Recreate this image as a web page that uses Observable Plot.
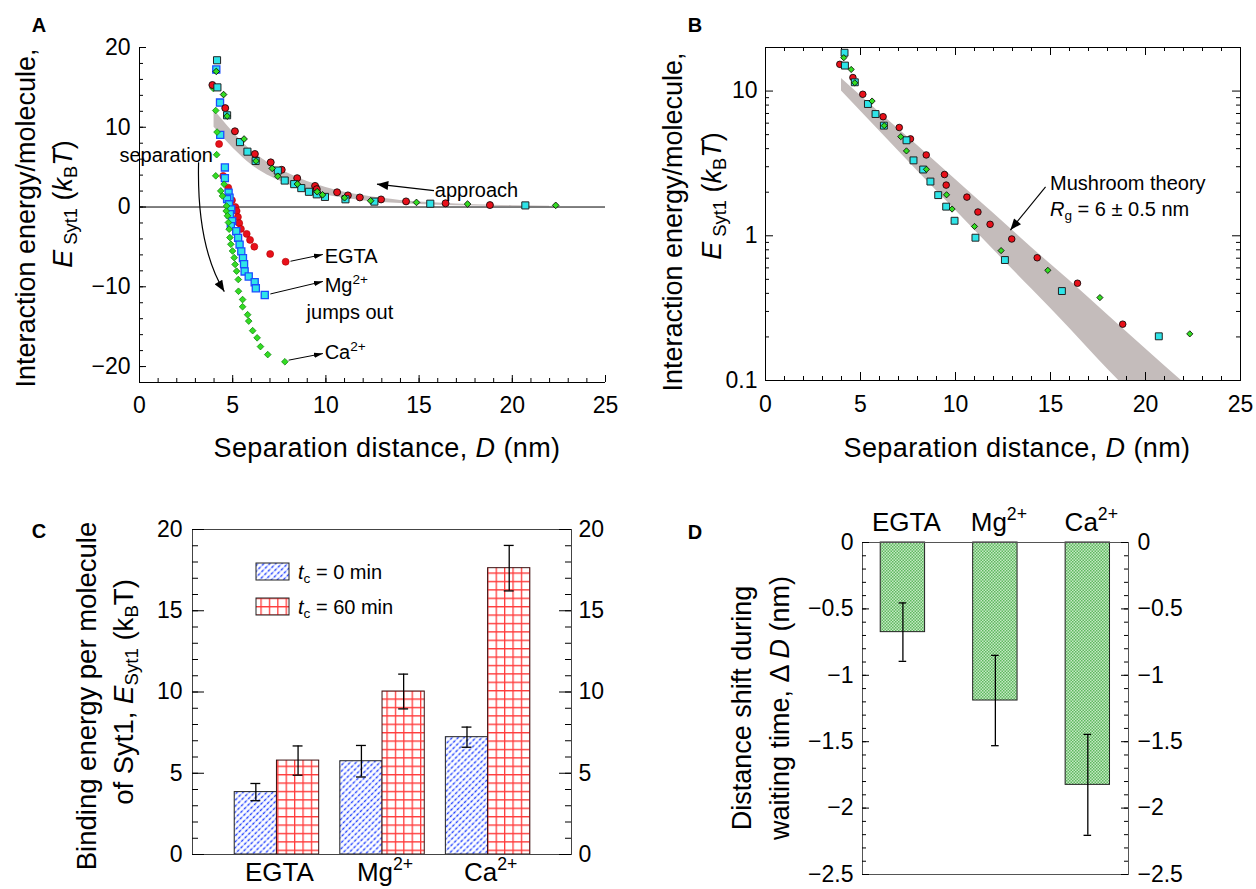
<!DOCTYPE html>
<html><head><meta charset="utf-8">
<script src="https://cdn.jsdelivr.net/npm/d3@7"></script>
<script src="https://cdn.jsdelivr.net/npm/@observablehq/plot@0.6"></script>
<style>
body{margin:0;background:#fff;}
#root{position:relative;width:1256px;height:889px;overflow:hidden;font-family:"Liberation Sans",Arial,Helvetica,sans-serif;background:#fff;}
.panel{position:absolute;}
.lbl{position:absolute;white-space:nowrap;color:#000;line-height:1;}
.lbl sub,.lbl sup{font-size:68%;line-height:0;}
.lbl sub{vertical-align:-0.28em;}
.lbl sup{vertical-align:0.6em;}
</style></head><body>
<svg width="0" height="0" style="position:absolute;left:0;top:0">
<defs>
<marker id="ah" viewBox="0 0 10 6" refX="10" refY="3" markerWidth="9" markerHeight="5.4" markerUnits="userSpaceOnUse" orient="auto"><path d="M0,0L10,3L0,6Z" fill="#000"/></marker>
<marker id="ahBig" viewBox="0 0 10 8" refX="10" refY="4" markerWidth="13" markerHeight="9" markerUnits="userSpaceOnUse" orient="auto"><path d="M0,0L10,4L0,8Z" fill="#000"/></marker>
<pattern id="hatchBlue" patternUnits="userSpaceOnUse" width="5" height="4.2" patternTransform="rotate(-45)">
<rect width="5" height="4.2" fill="#ffffff"/>
<line x1="0" y1="2.1" x2="5" y2="2.1" stroke="#b4c0ff" stroke-width="1.3"/>
<line x1="0" y1="2.1" x2="5" y2="2.1" stroke="#2442ff" stroke-width="1.3" stroke-dasharray="2.5 2.5"/>
</pattern>
<pattern id="gridRed" patternUnits="userSpaceOnUse" width="8.4" height="8.4">
<rect width="8.4" height="8.4" fill="#fff"/>
<path d="M0,0.65H8.4M0.65,0V8.4" stroke="#ff3b3b" stroke-width="1.3" fill="none"/>
</pattern>
<pattern id="greenCheck" patternUnits="userSpaceOnUse" width="3" height="3">
<rect width="3" height="3" fill="#c4e9c4"/>
<rect width="1.5" height="1.5" fill="#5fb85f"/>
<rect x="1.5" y="1.5" width="1.5" height="1.5" fill="#5fb85f"/>
</pattern>
</defs></svg>
<div id="root"></div>
<script>
// ---------------- DATA ----------------
// Panels A & B: approach curves [D (nm), E (kBT)]
const approachEGTA = [[3.91,15.3],[4.60,12.4],[5.12,9.5],[6.19,6.65],[7.04,5.6],[7.63,4.67],[8.46,3.62],[9.42,2.65],[9.51,2.24],[10.6,1.85],[11.18,1.46],[11.82,1.2],[12.96,0.95],[14.3,0.705],[16.42,0.47],[18.8,0.245]];
const approachMg = [[4.16,18.4],[4.18,15.0],[4.70,11.5],[5.39,8.14],[5.79,6.94],[6.23,5.77],[7.42,4.57],[7.79,3.32],[8.30,2.87],[8.68,2.37],[9.09,1.91],[9.51,1.59],[9.95,1.27],[11.05,0.97],[12.6,0.68],[15.6,0.415],[20.7,0.202]];
const approachCa = [[4.12,17.0],[4.51,14.1],[4.70,11.4],[5.61,8.53],[6.25,5.77],[7.12,4.84],[7.42,3.86],[8.47,2.88],[9.53,1.92],[9.82,1.53],[11.0,1.16],[12.4,0.79],[14.86,0.577],[17.6,0.374],[22.33,0.21]];
// Panel A: separation curves
const separationEGTA = [[4.27,7.9],[4.49,3.9],[4.76,2.43],[4.96,0.84],[5.14,0.0],[5.21,-0.5],[5.28,-1.26],[5.35,-2.02],[5.44,-2.74],[5.75,-3.37],[5.93,-4.12],[6.16,-4.97],[7.01,-5.89],[7.84,-6.86]];
const separationMg = [[4.12,17.25],[4.32,13.1],[4.33,9.05],[4.58,4.96],[4.58,3.62],[4.78,1.81],[4.83,1.18],[4.70,1.0],[4.80,0.34],[4.92,-0.29],[4.85,-0.9],[4.97,-1.77],[4.9,-2.4],[5.19,-3.03],[5.29,-3.87],[5.37,-4.71],[5.46,-5.56],[5.55,-6.4],[5.61,-7.16],[5.64,-8.08],[5.86,-8.71],[6.18,-9.43],[6.24,-10.19],[6.72,-11.03]];
const separationCa = [[3.96,14.86],[4.09,12.1],[4.16,9.4],[4.14,6.56],[4.09,3.91],[4.54,2.86],[4.36,2.02],[4.45,1.39],[4.67,0.13],[4.65,-0.5],[4.72,-1.1],[4.77,-1.94],[4.81,-2.78],[4.85,-3.83],[4.9,-4.67],[4.99,-5.51],[5.08,-6.35],[5.13,-7.2],[5.21,-8.04],[5.3,-9.09],[5.31,-10.56],[5.53,-11.6],[5.53,-12.5],[5.8,-13.5],[5.86,-14.3],[6.07,-15.5],[6.31,-16.4],[6.49,-17.5],[6.88,-18.5],[7.8,-19.4]];
// Mushroom theory band (Rg = 6 ± 0.5 nm)
const bandD    = [4, 6, 8, 10, 12, 14, 16, 18, 20, 22];
const bandHigh = [12.2, 7.1, 4.2, 2.45, 1.43, 0.83, 0.49, 0.285, 0.166, 0.097];
const bandLow  = [10, 5.3, 2.8, 1.5, 0.8, 0.43, 0.23, 0.12, 0.065, 0.034];
// Panel C
const conditions = ["EGTA", "Mg<sup>2+</sup>", "Ca<sup>2+</sup>"];
const bind0 = [3.84, 5.74, 7.22];
const bind0Err = [0.53, 0.97, 0.62];
const bind60 = [5.78, 10.03, 17.62];
const bind60Err = [0.9, 1.07, 1.4];
// Panel D
const shift = [-0.675, -1.19, -1.825];
const shiftErr = [0.22, 0.34, 0.38];
// Tick labels
const ticksA_x = [0, 5, 10, 15, 20, 25];
const ticksA_y = [-20, -10, 0, 10, 20];
const ticksB_y = [0.1, 1, 10];
const minorB_y = [0.2,0.3,0.4,0.5,0.6,0.7,0.8,0.9,2,3,4,5,6,7,8,9];
const ticksC_y = [0, 5, 10, 15, 20];
const ticksD_y = [0, -0.5, -1, -1.5, -2, -2.5];
// Annotations
const annotationsA = [
  {html:"separation", x:1.46, y:6.44, anchor:"middle"},
  {html:"approach", x:15.87, y:2.05},
  {html:"EGTA", x:9.96, y:-6.17},
  {html:"Mg<sup>2+</sup>", x:9.96, y:-9.8},
  {html:"jumps out", x:8.99, y:-13.2},
  {html:"Ca<sup>2+</sup>", x:9.96, y:-18.2}
];
const labelArrowsA = [{x1:8.1,y1:-6.8,x2:9.84,y2:-5.95},{x1:7.02,y1:-10.9,x2:9.84,y2:-9.33},{x1:8.0,y1:-19.2,x2:9.84,y2:-18.37}];
const approachArrow = [{x1:15.8,y1:2.05,x2:12.74,y2:2.87}];
const separationArrow = [{x1:3.17,y1:5.6,x2:4.55,y2:-10.6}];
const annotationsB = [
  {html:"Mushroom theory", x:15.0, y:2.30},
  {html:"<i>R</i><sub>g</sub> = 6 ± 0.5 nm", x:15.0, y:1.53}
];
const mushroomArrow = [{x1:14.74,y1:2.18,x2:12.89,y2:1.095}];

// ---------------- HELPERS ----------------
const FONT = '"Liberation Sans", Arial, Helvetica, sans-serif';
const root = document.getElementById("root");
const pts = a => a.map(([D, E]) => ({D, E}));
const band = bandD.map((D, i) => ({D, lo: bandLow[i], hi: bandHigh[i]}));
const fmtMinus = d => (d < 0 ? "\u2212" : "") + String(Math.abs(d));

function label(html, x, y, o = {}) {
  const {size = 20, anchor = "start", rotate = false, weight = "normal", ls = 0} = o;
  const d = document.createElement("div");
  d.className = "lbl";
  d.innerHTML = html;
  d.style.left = x + "px"; d.style.top = y + "px";
  d.style.fontSize = size + "px"; d.style.fontWeight = weight;
  if (ls) d.style.letterSpacing = ls + "px";
  const tx = anchor === "middle" ? "-50%" : anchor === "end" ? "-100%" : "0";
  d.style.transform = `translate(${tx},-50%)` + (rotate ? " rotate(-90deg)" : "");
  root.appendChild(d);
}
function place(svg, left, top) {
  const d = document.createElement("div");
  d.className = "panel";
  d.style.left = left + "px"; d.style.top = top + "px";
  d.style.width = svg.getAttribute("width") + "px";
  d.appendChild(svg);
  root.appendChild(d);
}
function ticks({fw, fh, xv, yv, len, sides}) {
  const m = [];
  if (yv) {
    if (sides.includes("left")) m.push(Plot.tickY(yv, {y: d => d, insetRight: fw - len, stroke: "#000"}));
    if (sides.includes("right")) m.push(Plot.tickY(yv, {y: d => d, insetLeft: fw - len, stroke: "#000"}));
  }
  if (xv) {
    if (sides.includes("bottom")) m.push(Plot.tickX(xv, {x: d => d, insetTop: fh - len, stroke: "#000"}));
    if (sides.includes("top")) m.push(Plot.tickX(xv, {x: d => d, insetBottom: fh - len, stroke: "#000"}));
  }
  return m;
}
function quadCurve(context) {
  let p = [];
  return {
    areaStart() {}, areaEnd() {},
    lineStart() { p = []; },
    point(x, y) { p.push([x, y]); },
    lineEnd() {
      if (p.length < 2) return;
      const [a, b] = [p[0], p[p.length - 1]];
      context.moveTo(a[0], a[1]);
      context.quadraticCurveTo(a[0] - 2, a[1] + 0.65 * (b[1] - a[1]), b[0], b[1]);
    }
  };
}
function setMarkers(svg, list) {
  const gs = svg.querySelectorAll('g[aria-label="link"]');
  gs.forEach((g, k) => g.querySelectorAll("path").forEach(p => p.setAttribute("marker-end", `url(#${list[k]})`)));
}
const baseStyle = {fontFamily: FONT, fontSize: "23px", color: "#000", background: "transparent", overflow: "visible"};

// ---------------- PANEL A ----------------
const A = {W: 628, H: 480, ml: 139, mr: 23, mt: 47, mb: 98};
const fwA = A.W - A.ml - A.mr, fhA = A.H - A.mt - A.mb;
const plotA = Plot.plot({
  width: A.W, height: A.H, marginLeft: A.ml, marginRight: A.mr, marginTop: A.mt, marginBottom: A.mb,
  style: baseStyle,
  x: {domain: [0, 25]}, y: {domain: [-22, 20]},
  marks: [
    Plot.areaY(band, {x: "D", y1: "lo", y2: "hi", fill: "#c4bcbb", curve: "monotone-x", clip: true}),
    Plot.ruleY([0], {stroke: "#000", strokeWidth: 1}),
    Plot.ruleX([0], {stroke: "#000"}),
    Plot.ruleY([-22], {stroke: "#000"}),
    ...ticks({fw: fwA, fh: fhA, yv: d3.range(-20, 21, 2), xv: d3.range(0, 26, 1), len: 4, sides: ["left", "bottom"]}),
    ...ticks({fw: fwA, fh: fhA, yv: ticksA_y, xv: ticksA_x, len: 7, sides: ["left", "bottom"]}),
    Plot.axisX({ticks: ticksA_x, tickSize: 0, tickPadding: 14, label: null}),
    Plot.axisY({ticks: ticksA_y, tickSize: 0, tickPadding: 9, label: null}),
    Plot.link(labelArrowsA, {x1: "x1", y1: "y1", x2: "x2", y2: "y2", stroke: "#000", strokeWidth: 1}),
    Plot.link(approachArrow, {x1: "x1", y1: "y1", x2: "x2", y2: "y2", stroke: "#000", strokeWidth: 1.2}),
    Plot.link(separationArrow, {x1: "x1", y1: "y1", x2: "x2", y2: "y2", stroke: "#000", strokeWidth: 1.2, curve: quadCurve}),
    Plot.dot(pts(separationEGTA), {x: "D", y: "E", symbol: "circle", r: 3.5, fill: "#e8101a", stroke: "#b00000", strokeWidth: 0.6}),
    Plot.dot(pts(separationMg), {x: "D", y: "E", symbol: "square", r: 4, fill: "#2ee4e8", stroke: "#1a4dff", strokeWidth: 1.3}),
    Plot.dot(pts(separationCa), {x: "D", y: "E", symbol: "diamond2", r: 3, fill: "#33dd22", stroke: "#128812", strokeWidth: 0.8}),
    Plot.dot(pts(approachEGTA), {x: "D", y: "E", symbol: "circle", r: 3.5, fill: "#e8101a", stroke: "#000", strokeWidth: 0.8}),
    Plot.dot(pts(approachMg), {x: "D", y: "E", symbol: "square", r: 4, fill: "#2ee4e8", stroke: "#222", strokeWidth: 1}),
    Plot.dot(pts(approachCa), {x: "D", y: "E", symbol: "diamond2", r: 3, fill: "#33dd22", stroke: "#000", strokeWidth: 0.8})
  ]
});
setMarkers(plotA, ["ah", "ahBig", "ahBig"]);
place(plotA, 0, 0);
{
  const sx = plotA.scale("x"), sy = plotA.scale("y");
  annotationsA.forEach(a => label(a.html, sx.apply(a.x), sy.apply(a.y), {size: 20, anchor: a.anchor || "start"}));
}

// ---------------- PANEL B ----------------
const B = {W: 628, H: 480, ml: 137, mr: 16, mt: 47, mb: 100};
const fwB = B.W - B.ml - B.mr, fhB = B.H - B.mt - B.mb;
const plotB = Plot.plot({
  width: B.W, height: B.H, marginLeft: B.ml, marginRight: B.mr, marginTop: B.mt, marginBottom: B.mb,
  style: baseStyle,
  x: {domain: [0, 25]}, y: {type: "log", domain: [0.1, 20]},
  marks: [
    Plot.areaY(band, {x: "D", y1: "lo", y2: "hi", fill: "#c4bcbb", curve: "monotone-x", clip: true}),
    Plot.frame({stroke: "#000"}),
    ...ticks({fw: fwB, fh: fhB, yv: minorB_y, xv: d3.range(0, 26, 1), len: 4, sides: ["left", "right", "bottom", "top"]}),
    ...ticks({fw: fwB, fh: fhB, yv: ticksB_y, xv: ticksA_x, len: 8, sides: ["left", "right", "bottom", "top"]}),
    Plot.axisX({ticks: ticksA_x, tickSize: 0, tickPadding: 15, label: null}),
    Plot.axisY({ticks: ticksB_y, tickSize: 0, tickPadding: 8, tickFormat: d => String(d), label: null}),
    Plot.link(mushroomArrow, {x1: "x1", y1: "y1", x2: "x2", y2: "y2", stroke: "#000", strokeWidth: 1.1}),
    Plot.dot(pts(approachEGTA), {x: "D", y: "E", symbol: "circle", r: 3.3, fill: "#e8101a", stroke: "#000", strokeWidth: 0.8}),
    Plot.dot(pts(approachMg), {x: "D", y: "E", symbol: "square", r: 3.9, fill: "#2ee4e8", stroke: "#222", strokeWidth: 1}),
    Plot.dot(pts(approachCa), {x: "D", y: "E", symbol: "diamond2", r: 2.8, fill: "#33dd22", stroke: "#000", strokeWidth: 0.8})
  ]
});
setMarkers(plotB, ["ahBig"]);
place(plotB, 628, 0);
{
  const sx = plotB.scale("x"), sy = plotB.scale("y");
  annotationsB.forEach(a => label(a.html, 628 + sx.apply(a.x), sy.apply(a.y), {size: 20}));
}

// ---------------- PANEL C ----------------
const C = {W: 628, H: 409, ml: 192, mr: 57, mt: 49, mb: 35};
const fwC = C.W - C.ml - C.mr, fhC = C.H - C.mt - C.mb;
const rowsC = conditions.map((c, k) => ({i: k + 1, t0: bind0[k], e0: bind0Err[k], t60: bind60[k], e60: bind60Err[k]}));
const capC = 0.047;
const capsC = rowsC.flatMap(d => [
  {x: d.i - 0.2, y: d.t0 - d.e0}, {x: d.i - 0.2, y: d.t0 + d.e0},
  {x: d.i + 0.2, y: d.t60 - d.e60}, {x: d.i + 0.2, y: d.t60 + d.e60}]);
const plotC = Plot.plot({
  width: C.W, height: C.H, marginLeft: C.ml, marginRight: C.mr, marginTop: C.mt, marginBottom: C.mb,
  style: baseStyle,
  x: {domain: [0.2, 3.79], axis: null}, y: {domain: [0, 20]},
  marks: [
    Plot.rect(rowsC, {x1: d => d.i - 0.4, x2: d => d.i, y1: 0, y2: "t0", fill: "url(#hatchBlue)", stroke: "#222", strokeWidth: 1}),
    Plot.rect(rowsC, {x1: d => d.i, x2: d => d.i + 0.4, y1: 0, y2: "t60", fill: "url(#gridRed)", stroke: "#3a1010", strokeWidth: 1}),
    Plot.ruleX(rowsC, {x: d => d.i - 0.2, y1: d => d.t0 - d.e0, y2: d => d.t0 + d.e0, stroke: "#000", strokeWidth: 1.3}),
    Plot.ruleX(rowsC, {x: d => d.i + 0.2, y1: d => d.t60 - d.e60, y2: d => d.t60 + d.e60, stroke: "#000", strokeWidth: 1.3}),
    Plot.ruleY(capsC, {y: "y", x1: d => d.x - capC, x2: d => d.x + capC, stroke: "#000", strokeWidth: 1.3}),
    Plot.frame({stroke: "#444"}),
    ...ticks({fw: fwC, fh: fhC, yv: d3.range(0, 21, 1), len: 6, sides: ["left", "right"]}),
    ...ticks({fw: fwC, fh: fhC, yv: ticksC_y, len: 12, sides: ["left", "right"]}),
    Plot.axisY({anchor: "left", ticks: ticksC_y, tickSize: 0, tickPadding: 10, label: null}),
    Plot.axisY({anchor: "right", ticks: ticksC_y, tickSize: 0, tickPadding: 7, label: null})
  ]
});
{
  const g = d3.select(plotC).append("g");
  g.append("rect").attr("x", 256).attr("y", 83).attr("width", 33).attr("height", 17).attr("fill", "url(#hatchBlue)").attr("stroke", "#222");
  g.append("rect").attr("x", 256).attr("y", 118).attr("width", 33).attr("height", 17).attr("fill", "url(#gridRed)").attr("stroke", "#222");
}
place(plotC, 0, 480);
label("<i>t</i><sub>c</sub> = 0 min", 298, 571.5, {size: 20});
label("<i>t</i><sub>c</sub> = 60 min", 298, 606.5, {size: 20});
{
  const sx = plotC.scale("x");
  conditions.forEach((c, k) => label(c, sx.apply(k + 1) + 3, 872, {size: 26, anchor: "middle"}));
}

// ---------------- PANEL D ----------------
const Dp = {W: 628, H: 409, ml: 234, mr: 128, mt: 62, mb: 15};
const fwD = Dp.W - Dp.ml - Dp.mr, fhD = Dp.H - Dp.mt - Dp.mb;
const rowsD = conditions.map((c, k) => ({i: k + 1, v: shift[k], e: shiftErr[k]}));
const capD = 0.041;
const capsD = rowsD.flatMap(d => [{x: d.i, y: d.v - d.e}, {x: d.i, y: d.v + d.e}]);
const plotD = Plot.plot({
  width: Dp.W, height: Dp.H, marginLeft: Dp.ml, marginRight: Dp.mr, marginTop: Dp.mt, marginBottom: Dp.mb,
  style: baseStyle,
  x: {domain: [0.563, 3.44], axis: null}, y: {domain: [-2.5, 0]},
  marks: [
    Plot.rect(rowsD, {x1: d => d.i - 0.24, x2: d => d.i + 0.24, y1: 0, y2: "v", fill: "url(#greenCheck)", stroke: "#222", strokeWidth: 1}),
    Plot.ruleX(rowsD, {x: "i", y1: d => d.v - d.e, y2: d => d.v + d.e, stroke: "#000", strokeWidth: 1.3}),
    Plot.ruleY(capsD, {y: "y", x1: d => d.x - capD, x2: d => d.x + capD, stroke: "#000", strokeWidth: 1.3}),
    Plot.frame({stroke: "#555"}),
    ...ticks({fw: fwD, fh: fhD, yv: d3.range(0, 26, 1).map(k => -k / 10), len: 4, sides: ["left", "right"]}),
    ...ticks({fw: fwD, fh: fhD, yv: ticksD_y, len: 7, sides: ["left", "right"]}),
    Plot.axisY({anchor: "left", ticks: ticksD_y, tickSize: 0, tickPadding: 9, tickFormat: fmtMinus, label: null}),
    Plot.axisY({anchor: "right", ticks: ticksD_y, tickSize: 0, tickPadding: 9, tickFormat: fmtMinus, label: null})
  ]
});
place(plotD, 628, 480);
{
  const sx = plotD.scale("x");
  conditions.forEach((c, k) => label(c, 628 + sx.apply(k + 1) + 4, 522, {size: 26, anchor: "middle"}));
}

// ---------------- AXIS TITLES & PANEL LETTERS ----------------
label("Separation distance, <i>D</i> (nm)", 387, 448, {size: 27, anchor: "middle", ls: 0.4});
label("Separation distance, <i>D</i> (nm)", 1017, 448, {size: 27, anchor: "middle", ls: 0.4});
label("Interaction energy/molecule,", 26, 218, {size: 27, anchor: "middle", rotate: true});
label("<i>E</i><sub> Syt1</sub> (<i>k</i><sub>B</sub><i>T</i>)", 63, 204, {size: 27, anchor: "middle", rotate: true});
label("Interaction energy/molecule,", 673, 222, {size: 27, anchor: "middle", rotate: true});
label("<i>E</i><sub> Syt1</sub> (<i>k</i><sub>B</sub><i>T</i>)", 712, 196, {size: 27, anchor: "middle", rotate: true});
label("Binding energy per molecule", 87, 696, {size: 27.5, anchor: "middle", rotate: true});
label("of Syt1, <i>E</i><sub>Syt1</sub> (k<sub>B</sub>T)", 124, 692, {size: 27.5, anchor: "middle", rotate: true});
label("Distance shift during", 742, 708, {size: 27, anchor: "middle", rotate: true});
label("waiting time, Δ <i>D</i> (nm)", 780, 708, {size: 27, anchor: "middle", rotate: true});
label("A", 39, 25, {size: 20, anchor: "middle", weight: "bold"});
label("B", 695, 25, {size: 20, anchor: "middle", weight: "bold"});
label("C", 39, 531, {size: 20, anchor: "middle", weight: "bold"});
label("D", 695, 532, {size: 20, anchor: "middle", weight: "bold"});
</script>
</body></html>
